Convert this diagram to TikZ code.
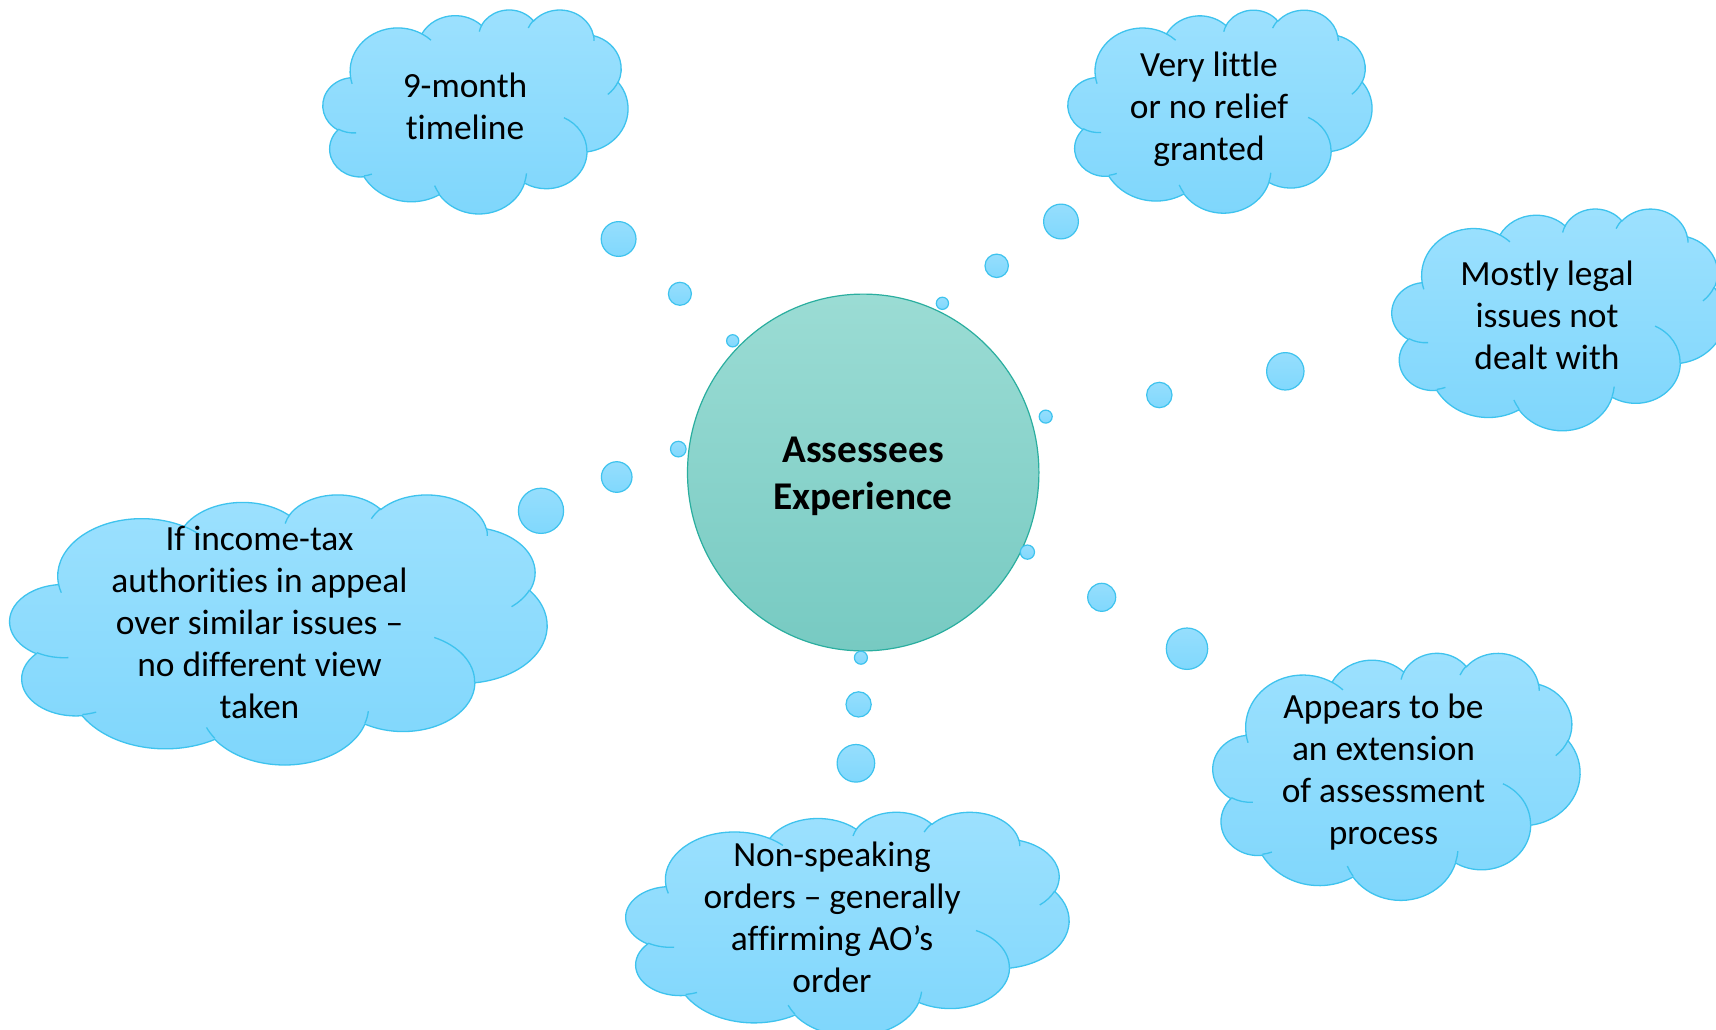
\documentclass[tikz,border=0pt]{standalone}
\usepackage{fontspec}
\setmainfont{Carlito}[RawFeature={-liga}]
\usetikzlibrary{shapes.geometric}

\definecolor{cloudtop}{HTML}{9DE1FE}
\definecolor{cloudbot}{HTML}{7ED6FC}
\definecolor{cloudline}{HTML}{3EC3EE}
\definecolor{coretop}{HTML}{9BDCD4}
\definecolor{corebot}{HTML}{77CAC2}
\definecolor{coreline}{HTML}{2AAE9F}
\definecolor{bubtop}{HTML}{96DEFD}
\definecolor{bubbot}{HTML}{80D8FD}

% elliptical arc given as in the Office geometry: radii, start angle and
% sweep measured as visual angles, converted to parametric ones
\newcommand\oarc[4]{%
  \pgfextra{%
    \pgfmathsetmacro\arcA{atan2((#1)*sin(#3),(#2)*cos(#3))}%
    \pgfmathsetmacro\arcB{atan2((#1)*sin((#3)+(#4)),(#2)*cos((#3)+(#4)))}%
    \pgfmathsetmacro\arcB{\arcA+mod(\arcB-\arcA+720,360)}%
  }%
  arc[start angle=\arcA, end angle=\arcB, x radius=#1pt, y radius=#2pt]%
}

% cloud outline in a 4320 x 4320 box, y pointing down
\newcommand\cloudoutline{%
  (390pt,1437pt)
  \oarc{675.3}{919.0}{-190.4875}{123.7805}
  \oarc{533.3}{726.7}{-144.1024}{89.9452}
  \oarc{436.5}{594.5}{-145.8079}{99.7230}
  \oarc{485.7}{659.5}{-130.9861}{117.2417}
  \oarc{533.3}{727.3}{-78.7089}{109.0269}
  \oarc{677.5}{922.0}{-46.2673}{130.2690}
  \oarc{578.5}{786.7}{0.6250}{114.0333}
  \oarc{675.2}{921.5}{22.4516}{115.1726}
  \oarc{772.0}{1054.3}{66.2426}{75.7110}
  \oarc{436.0}{591.8}{-274.9421}{146.7356}
  \oarc{434.5}{594.5}{-246.8285}{152.5189}
  -- cycle}

% the short inner creases of the cloud
\newcommand\cloudcreases{%
  (469.3pt,2617.7pt) \oarc{434.5}{594.5}{86.7420}{26.4295}
  (692.8pt,3489.9pt) \oarc{436.0}{591.8}{73.6105}{11.4475}
  (1647.8pt,3909.0pt) \oarc{675.2}{921.5}{137.6242}{14.0811}
  (2882.7pt,3475.1pt) \oarc{675.2}{921.5}{6.4533}{15.9984}
  (3412.9pt,2295.4pt) \oarc{578.5}{786.7}{-70.2924}{70.9174}
  (4179.8pt,1535.4pt) \oarc{533.3}{727.3}{30.3180}{27.7515}
  (3832.4pt,542.6pt) \oarc{485.7}{659.5}{-13.7443}{14.8589}
  (2907.8pt,395.2pt) \oarc{485.7}{659.5}{-149.1815}{18.1954}
  (2214.1pt,472.0pt) \oarc{436.5}{594.5}{-163.4943}{17.6864}
  (1400.0pt,519.2pt) \oarc{675.3}{919.0}{-66.7070}{12.3194}
  (412.7pt,1578.9pt) \oarc{675.3}{919.0}{157.6544}{11.8582}}

% \cloud{left}{top}{width}{height}
\newcommand\cloud[4]{%
  \begin{scope}[shift={(#1,#2)}, xscale=#3/4320, yscale=-#4/4320]
    \draw[cloudbody] \cloudoutline;
    \draw[cloudedge] \cloudcreases;
  \end{scope}}

\tikzset{
  cloudbody/.style={top color=cloudtop, bottom color=cloudbot,
    draw=cloudline, line width=1.3pt},
  cloudedge/.style={draw=cloudline, line width=1.3pt},
  thought/.style={align=center, inner sep=0pt,
    font=\fontsize{35.4}{42}\selectfont},
  bubble/.style={circle, inner sep=0pt, minimum size=#1,
    top color=bubtop, bottom color=bubbot, draw=cloudline, line width=1.2pt},
  core/.style={ellipse, inner sep=0pt, top color=coretop, bottom color=corebot,
    draw=coreline, line width=1.2pt},
}

\begin{document}
\begin{tikzpicture}[x=1pt, y=-1pt]
  \useasboundingbox (0,0) rectangle (1716,1029);
  \fill[white] (0,0) rectangle (1716,1029);
  \clip (0,0) rectangle (1716,1029);

  % central circle
  \node[core, minimum width=351.4pt, minimum height=356.8pt] (hub) at (863.2,472.5) {};
  \node[align=center, inner sep=0pt, font=\fontsize{39.3}{47}\selectfont\bfseries]
    (hubtext) at (863,476.6) {\strut Assessees\\Experience\strut};

  % thought clouds
  \cloud{323}{9.3}{305}{204}
  \cloud{1068}{9.5}{304}{203}
  \cloud{1392}{208.3}{333}{221.7}
  \cloud{10}{494}{537}{270}
  \cloud{626}{811.5}{443}{224}
  \cloud{1213}{652.5}{367}{247}

  \node[thought] (t1) at (465,109.6) {\strut 9-month\\timeline\strut};
  \node[thought] (t2) at (1209,110.3) {\strut Very little\\or no relief\\granted\strut};
  \node[thought] (t3) at (1547,319.1) {\strut Mostly legal\\issues not\\dealt with\strut};
  \node[thought] (t4) at (259.5,626.3) {\strut If income-tax\\authorities in appeal\\over similar issues –\\no different view\\taken\strut};
  \node[thought] (t5) at (832,921) {\strut Non-speaking\\orders – generally\\affirming AO’s\\order\strut};
  \node[thought] (t6) at (1383.5,773.1) {\strut Appears to be\\an extension\\of assessment\\process\strut};

  % thought bubbles between the circle and the clouds
  \node[bubble=34.8pt] (a3) at (618.6,239) {};
  \node[bubble=23pt]   (a2) at (679.9,293.8) {};
  \node[bubble=12.2pt] (a1) at (732.7,340.8) {};

  \node[bubble=34.8pt] (b3) at (1061,221.5) {};
  \node[bubble=23.4pt] (b2) at (996.7,265.8) {};
  \node[bubble=12.2pt] (b1) at (942.4,303.3) {};

  \node[bubble=37.4pt] (c3) at (1285.3,371.3) {};
  \node[bubble=25.4pt] (c2) at (1159.3,395) {};
  \node[bubble=13pt]   (c1) at (1045.7,416.6) {};

  \node[bubble=45.2pt] (d3) at (541,510.8) {};
  \node[bubble=30.6pt] (d2) at (616.7,477) {};
  \node[bubble=15.6pt] (d1) at (678.3,449.1) {};

  \node[bubble=37.6pt] (e3) at (855.9,763.3) {};
  \node[bubble=25.2pt] (e2) at (858.6,704.4) {};
  \node[bubble=13pt]   (e1) at (860.9,657.7) {};

  \node[bubble=41.4pt] (f3) at (1187,648.7) {};
  \node[bubble=28pt]   (f2) at (1101.7,597.3) {};
  \node[bubble=14.2pt] (f1) at (1027.4,552.1) {};
\end{tikzpicture}
\end{document}
